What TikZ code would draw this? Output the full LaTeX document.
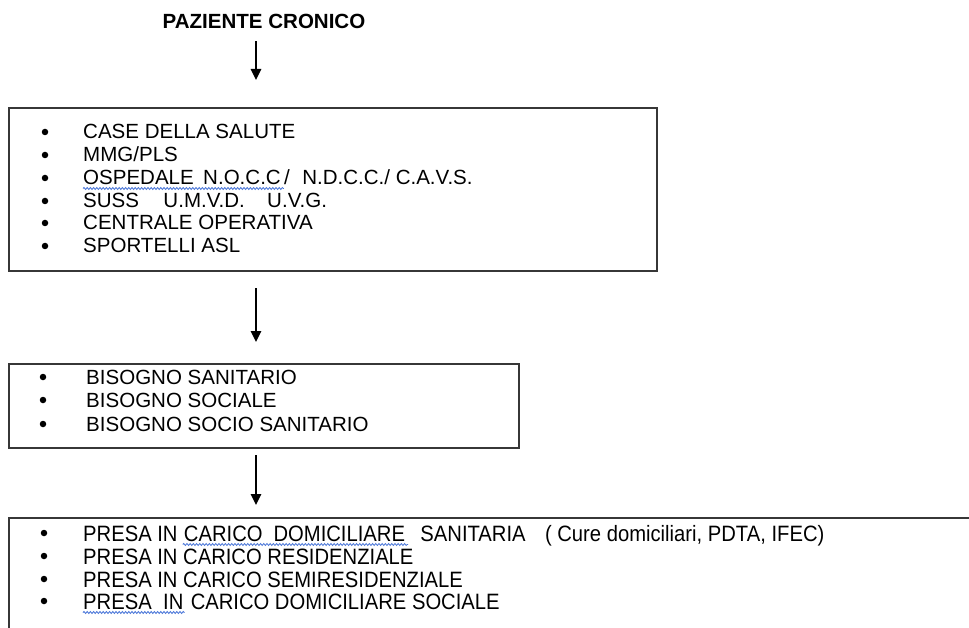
\documentclass[tikz,border=0pt]{standalone}
\usepackage{fontspec}
\setmainfont{Liberation Sans}
\newfontfamily\condensed[FakeStretch=0.91]{Liberation Sans}
\usetikzlibrary{arrows.meta,decorations.pathmorphing}
\definecolor{frame}{RGB}{55,55,55}
\definecolor{spell}{RGB}{70,115,215}
\tikzset{
  frameline/.style={draw=frame, line width=1.4bp},
  flowarrow/.style={line width=2.5bp, -{Triangle[length=11bp,width=10bp]}},
  itemtext/.style={anchor=base west, inner sep=0pt, font=\fontsize{20.6}{24}\selectfont},
  lowtext/.style={anchor=base west, inner sep=0pt, font=\condensed\fontsize{22.3}{26}\selectfont},
  dot/.style={circle, fill=black, inner sep=0pt, minimum size=6.5bp},
  squiggle/.style={draw=spell, line width=0.8bp, decorate,
    decoration={snake, amplitude=1bp, segment length=3.2bp}},
}
\begin{document}
\begin{tikzpicture}[x=1bp,y=-1bp]
\useasboundingbox (0,0) rectangle (969,628);
\coordinate (spine) at (256,0);

% heading
\node[inner sep=0pt, font=\bfseries\fontsize{20.6}{24}\selectfont] (title) at (264,21) {PAZIENTE CRONICO};

% first box: points of access
\node[frameline, rectangle, anchor=north west, outer sep=0pt, inner sep=0pt,
      minimum width=648bp, minimum height=163bp] (box1) at (9,108) {};
\node[dot] (d11) at (45,132) {};
\node[itemtext] (t11) at (83,139) {CASE DELLA SALUTE};
\node[dot] (d12) at (45,155) {};
\node[itemtext] (t12) at (83,162) {MMG/PLS};
\node[dot] (d13) at (45,178) {};
\node[itemtext] (t13a) at (83,185) {OSPEDALE};
\node[itemtext] (t13b) at ([xshift=9bp]t13a.base east) {N.O.C.C};
\node[itemtext] (t13c) at ([xshift=3bp]t13b.base east) {/};
\node[itemtext] (t13d) at ([xshift=12bp]t13c.base east) {N.D.C.C./ C.A.V.S.};
\draw[squiggle] ([yshift=-3.5bp]t13a.base west) -- ([xshift=3bp,yshift=-3.5bp]t13b.base east);
\node[dot] (d14) at (45,201) {};
\node[itemtext] (t14a) at (83,208) {SUSS};
\node[itemtext] (t14b) at ([xshift=24bp]t14a.base east) {U.M.V.D.};
\node[itemtext] (t14c) at ([xshift=22bp]t14b.base east) {U.V.G.};
\node[dot] (d15) at (45,223) {};
\node[itemtext] (t15) at (83,230) {CENTRALE OPERATIVA};
\node[dot] (d16) at (45,246) {};
\node[itemtext] (t16) at (83,253) {SPORTELLI ASL};

% second box: needs
\node[frameline, rectangle, anchor=north west, outer sep=0pt, inner sep=0pt,
      minimum width=510bp, minimum height=84bp] (box2) at (9,364) {};
\node[dot] (d21) at (43,377) {};
\node[itemtext] (t21) at (86,384) {BISOGNO SANITARIO};
\node[dot] (d22) at (43,400) {};
\node[itemtext] (t22) at (86,407) {BISOGNO SOCIALE};
\node[dot] (d23) at (43,424) {};
\node[itemtext] (t23) at (86,431) {BISOGNO SOCIO SANITARIO};

% third box: care settings (open to the right and below)
\node[rectangle, anchor=north west, outer sep=0pt, inner sep=0pt,
      minimum width=970bp, minimum height=120bp] (box3) at (9,518) {};
\draw[frameline] (box3.north east) -- (box3.north west) -- (box3.south west);
\node[dot] (d31) at (44,533) {};
\node[lowtext] (t31a) at (83,541) {PRESA IN};
\node[lowtext] (t31b) at ([xshift=6bp]t31a.base east) {CARICO\hspace{11bp}DOMICILIARE};
\node[lowtext] (t31c) at ([xshift=15bp]t31b.base east) {SANITARIA};
\node[lowtext] (t31d) at ([xshift=19bp]t31c.base east) {( Cure domiciliari, PDTA, IFEC)};
\draw[squiggle] ([xshift=-1bp,yshift=-3.5bp]t31b.base west) -- ([xshift=3bp,yshift=-3.5bp]t31b.base east);
\node[dot] (d32) at (44,556) {};
\node[lowtext] (t32) at (83,564) {PRESA IN CARICO RESIDENZIALE};
\node[dot] (d33) at (44,579) {};
\node[lowtext] (t33) at (83,587) {PRESA IN CARICO SEMIRESIDENZIALE};
\node[dot] (d34) at (44,601) {};
\node[lowtext] (t34a) at (83,609) {PRESA};
\node[lowtext] (t34b) at ([xshift=11bp]t34a.base east) {IN};
\node[lowtext] (t34c) at ([xshift=7bp]t34b.base east) {CARICO DOMICILIARE SOCIALE};
\draw[squiggle] ([yshift=-3.5bp]t34a.base west) -- ([xshift=1bp,yshift=-3.5bp]t34b.base east);

% flow arrows
\draw[flowarrow, shorten <=13bp, shorten >=28bp] (title.south -| spine) -- (box1.north -| spine);
\draw[flowarrow, shorten <=17bp, shorten >=22bp] (box1.south -| spine) -- (box2.north -| spine);
\draw[flowarrow, shorten <=7bp, shorten >=13bp] (box2.south -| spine) -- (box3.north -| spine);
\end{tikzpicture}
\end{document}
